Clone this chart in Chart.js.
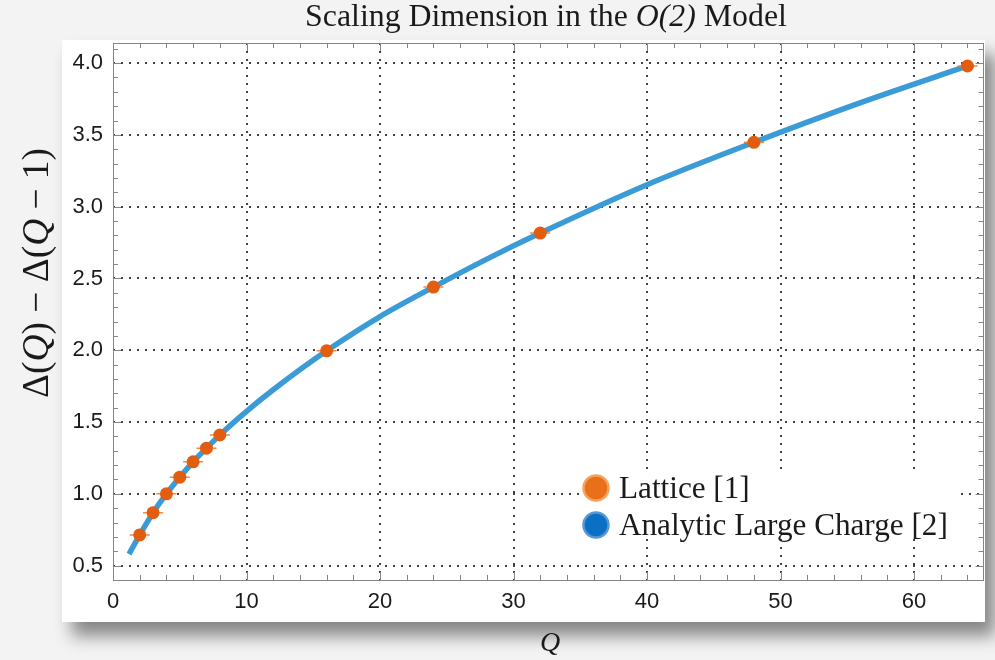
<!DOCTYPE html>
<html lang="en">

<head>
    <meta charset="UTF-8">
    <title>Scaling Dimension in the O(2) Model</title>
    <script src="https://cdn.jsdelivr.net/npm/chart.js"></script>
    <style>
        body {
            margin: 0;
            width: 995px;
            height: 660px;
            overflow: hidden;
            background: #f3f3f3;
            position: relative;
        }

        .panel {
            position: absolute;
            left: 62px;
            top: 40px;
            width: 923px;
            height: 582px;
            background: #fff;
            box-shadow: 10px 14px 16px rgba(0, 0, 0, 0.45);
        }

        #chart {
            position: absolute;
            left: 0;
            top: 0;
        }
    </style>
</head>

<body>
    <div class="panel"></div>
    <canvas id="chart" width="995" height="660"></canvas>
    <script>
        // lattice data (Q, Delta(Q) - Delta(Q-1))
        const latticeQ = [2, 3, 4, 5, 6, 7, 8, 16, 24, 32, 48, 64];
        const latticeY = [0.714, 0.869, 1.0, 1.116, 1.223, 1.318, 1.41, 1.996, 2.44, 2.816, 3.448, 3.98];

        // analytic large charge curve
        const curveQ = [1.2, 2, 3, 4, 5, 6, 7, 8, 10, 12, 16, 20, 24, 28, 32, 40, 48, 56, 64];
        const curveY = [0.58, 0.714, 0.869, 1.0, 1.116, 1.223, 1.318, 1.41, 1.575, 1.725, 1.996, 2.235, 2.44, 2.635, 2.816, 3.153, 3.448, 3.725, 3.98];

        const xTicks = [0, 10, 20, 30, 40, 50, 60];
        const yTicks = [0.5, 1.0, 1.5, 2.0, 2.5, 3.0, 3.5, 4.0];

        const SERIF = '"Liberation Serif", "DejaVu Serif", serif';

        function runsWidth(ctx, runs, size) {
            let w = 0;
            runs.forEach(r => {
                ctx.font = (r.it ? 'italic ' : '') + size + 'px ' + SERIF;
                w += ctx.measureText(r.t).width;
            });
            return w;
        }

        function fitSize(ctx, runs, target) {
            return 100 * target / runsWidth(ctx, runs, 100);
        }

        // draws mixed roman / italic text centred at (x, y)
        function drawRuns(ctx, runs, x, y, size) {
            let cx = x - runsWidth(ctx, runs, size) / 2;
            ctx.textAlign = 'left';
            ctx.textBaseline = 'middle';
            runs.forEach(r => {
                ctx.font = (r.it ? 'italic ' : '') + size + 'px ' + SERIF;
                ctx.fillText(r.t, cx, y);
                cx += ctx.measureText(r.t).width;
            });
        }

        const frame = {
            id: 'frame',
            beforeDatasetsDraw(chart) {
                const { ctx, chartArea: a, scales: { x, y } } = chart;
                ctx.save();
                ctx.strokeStyle = 'rgba(45,45,45,0.9)';
                ctx.lineWidth = 2;
                ctx.setLineDash([2, 6]);
                xTicks.forEach(v => {
                    if (v === 0) return;
                    const px = Math.round(x.getPixelForValue(v));
                    ctx.beginPath();
                    ctx.moveTo(px, a.top);
                    ctx.lineTo(px, a.bottom);
                    ctx.stroke();
                });
                yTicks.forEach(v => {
                    const py = Math.round(y.getPixelForValue(v));
                    ctx.beginPath();
                    ctx.moveTo(a.left, py);
                    ctx.lineTo(a.right, py);
                    ctx.stroke();
                });
                ctx.setLineDash([]);
                // legend box hides the grid behind it
                ctx.fillStyle = '#fff';
                ctx.fillRect(580, 469, 378, 70);
                ctx.restore();
            },
            afterDraw(chart) {
                const { ctx, chartArea: a, scales: { x, y } } = chart;
                ctx.save();
                ctx.strokeStyle = '#858585';
                ctx.lineWidth = 1;
                ctx.strokeRect(Math.round(a.left) + 0.5, Math.round(a.top) + 0.5,
                    Math.round(a.right - a.left) - 1, Math.round(a.bottom - a.top));

                // inward ticks on all four sides
                ctx.beginPath();
                for (let q = 0; q <= 64; q += 2) {
                    const px = Math.round(x.getPixelForValue(q)) + 0.5;
                    const len = q % 10 === 0 ? 8 : 5;
                    ctx.moveTo(px, a.bottom);
                    ctx.lineTo(px, a.bottom - len);
                    ctx.moveTo(px, a.top);
                    ctx.lineTo(px, a.top + len);
                }
                for (let i = 4; i <= 41; i++) {
                    const py = Math.round(y.getPixelForValue(i / 10)) + 0.5;
                    const len = i % 5 === 0 ? 8 : 5;
                    ctx.moveTo(a.left, py);
                    ctx.lineTo(a.left + len, py);
                    ctx.moveTo(a.right, py);
                    ctx.lineTo(a.right - len, py);
                }
                ctx.stroke();

                // title and axis titles
                ctx.fillStyle = '#1a1a1a';
                const title = [{ t: 'Scaling Dimension in the ' }, { t: 'O(2)', it: true }, { t: ' Model' }];
                drawRuns(ctx, title, 546, 18, fitSize(ctx, title, 482));

                const ylab = [{ t: 'Δ(' }, { t: 'Q', it: true }, { t: ') − Δ(' }, { t: 'Q', it: true }, { t: ' − 1)' }];
                ctx.save();
                ctx.translate(38, 273);
                ctx.rotate(-Math.PI / 2);
                drawRuns(ctx, ylab, 0, 0, fitSize(ctx, ylab, 250));
                ctx.restore();

                drawRuns(ctx, [{ t: 'Q', it: true }], 550, 644, 28);

                // legend
                const lsize = fitSize(ctx, [{ t: 'Analytic Large Charge [2]' }], 329);
                ctx.lineWidth = 2.5;
                ctx.fillStyle = '#e8701a';
                ctx.strokeStyle = '#f5a25e';
                ctx.beginPath();
                ctx.arc(596, 488, 12.5, 0, Math.PI * 2);
                ctx.fill();
                ctx.stroke();
                ctx.fillStyle = '#0a70c4';
                ctx.strokeStyle = '#5a97d4';
                ctx.beginPath();
                ctx.arc(596, 525, 12.5, 0, Math.PI * 2);
                ctx.fill();
                ctx.stroke();
                ctx.fillStyle = '#1a1a1a';
                ctx.textAlign = 'left';
                ctx.textBaseline = 'middle';
                ctx.font = lsize + 'px ' + SERIF;
                ctx.fillText('Lattice [1]', 619, 490);
                ctx.fillText('Analytic Large Charge [2]', 619, 527);
                ctx.restore();
            }
        };

        const latticePts = latticeQ.map((q, i) => ({ x: q, y: latticeY[i] }));
        const curvePts = curveQ.map((q, i) => ({ x: q, y: curveY[i] }));

        new Chart(document.getElementById('chart'), {
            type: 'line',
            data: {
                datasets: [{
                    label: 'Lattice [1]',
                    data: latticePts,
                    showLine: false,
                    pointRadius: 6.5,
                    pointBackgroundColor: '#e35d0f',
                    pointBorderWidth: 0,
                    order: 0
                }, {
                    label: 'error',
                    data: latticePts,
                    showLine: false,
                    pointStyle: 'line',
                    pointRadius: 10,
                    pointBorderColor: '#f0874a',
                    pointBorderWidth: 1.5,
                    order: 1
                }, {
                    label: 'Analytic Large Charge [2]',
                    data: curvePts,
                    borderColor: '#3a9bd6',
                    borderWidth: 5.5,
                    pointRadius: 0,
                    cubicInterpolationMode: 'monotone',
                    fill: false,
                    order: 2
                }]
            },
            options: {
                responsive: false,
                animation: false,
                layout: { padding: { left: 53, right: 11, top: 43, bottom: 50 } },
                plugins: { legend: { display: false }, tooltip: { enabled: false }, title: { display: false } },
                scales: {
                    x: {
                        type: 'linear',
                        min: 0,
                        max: 65.2,
                        afterBuildTicks: s => { s.ticks = xTicks.map(v => ({ value: v })); },
                        afterFit: s => { s.height = 30; },
                        grid: { display: false, drawTicks: false },
                        border: { display: false },
                        ticks: { padding: 9, color: '#1a1a1a', font: { family: '"Liberation Sans", Arial, sans-serif', size: 22 } }
                    },
                    y: {
                        type: 'linear',
                        min: 0.4,
                        max: 4.14,
                        afterBuildTicks: s => { s.ticks = yTicks.map(v => ({ value: v })); },
                        afterFit: s => { s.width = 60; },
                        grid: { display: false, drawTicks: false },
                        border: { display: false },
                        ticks: {
                            padding: 10,
                            color: '#1a1a1a',
                            font: { family: '"Liberation Sans", Arial, sans-serif', size: 22 },
                            callback: v => v.toFixed(1)
                        }
                    }
                }
            },
            plugins: [frame]
        });
    </script>
</body>

</html>
